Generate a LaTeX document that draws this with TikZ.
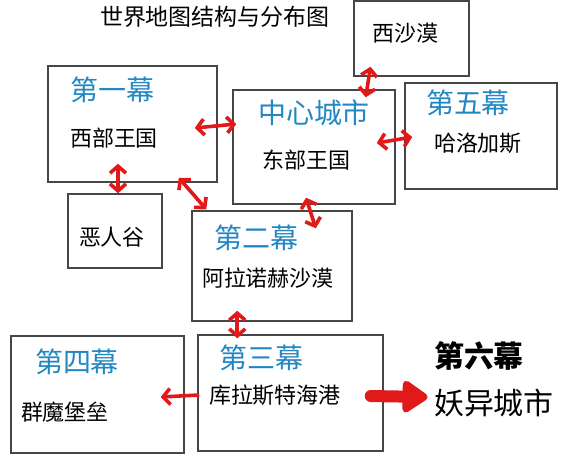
\documentclass[tikz,border=0pt]{standalone}
\usepackage{fontspec}
\setmainfont{Noto Sans CJK SC}
\usetikzlibrary{arrows.meta,calc,fit}
\definecolor{actblue}{RGB}{35,135,195}
\definecolor{mapred}{RGB}{225,25,25}
\definecolor{boxgray}{RGB}{70,70,70}
\tikzset{
  mapbox/.style={draw=boxgray, line width=0.75pt, inner sep=0pt},
  acttitle/.style={text=actblue, font=\fontsize{14}{14}\selectfont, inner sep=0pt},
  placename/.style={font=\fontsize{11}{11}\selectfont, inner sep=0pt},
  linkarrow/.style={draw=mapred, line width=1.8pt, >={Straight Barb[length=3.5pt,width=8pt]}, <->},
  onewayarrow/.style={linkarrow, ->},
  fatarrow/.style={draw=mapred, fill=mapred, line width=6pt, line cap=round, -{Triangle[length=14pt,width=18pt,round]}}
}
\begin{document}
\begin{tikzpicture}[x=0.5pt,y=-0.5pt]
\useasboundingbox (0,0) rectangle (580,457);
% title
\node[placename, font=\fontsize{11.5}{11.5}\selectfont] (maptitle) at (215,17) {世界地图结构与分布图};
% boxes
\node[mapbox, fit={(48,66) (217,182)}] (first) {};
\node[mapbox, fit={(233,90) (395,204)}] (center) {};
\node[mapbox, fit={(354,1) (469,76)}] (desert) {};
\node[mapbox, fit={(405,83) (557,189)}] (fifth) {};
\node[mapbox, fit={(68,194) (162,268)}] (valley) {};
\node[mapbox, fit={(192,211) (352,321)}] (second) {};
\node[mapbox, fit={(11,336) (184,453)}] (fourth) {};
\node[mapbox, fit={(198,335) (383,451)}] (third) {};
% texts
\node[acttitle] (firstact) at (112,90) {第一幕};
\node[placename] (firstplace) at (114,138) {西部王国};
\node[acttitle] (centeract) at (314,113) {中心城市};
\node[placename] (centerplace) at (307,160) {东部王国};
\node[placename] (desertplace) at (405,33) {西沙漠};
\node[acttitle] (fifthact) at (468,103) {第五幕};
\node[placename] (fifthplace) at (478,143) {哈洛加斯};
\node[placename] (valleyplace) at (112,237) {恶人谷};
\node[acttitle] (secondact) at (256,238) {第二幕};
\node[placename] (secondplace) at (268,278) {阿拉诺赫沙漠};
\node[acttitle] (fourthact) at (77,362) {第四幕};
\node[placename] (fourthplace) at (65,412) {群魔堡垒};
\node[acttitle] (thirdact) at (262,358) {第三幕};
\node[placename] (thirdplace) at (275,395) {库拉斯特海港};
\node[font=\bfseries\fontsize{15}{15}\selectfont, inner sep=0pt] (sixthact) at (479,356) {第六幕};
\node[font=\fontsize{15}{15}\selectfont, inner sep=0pt] (sixthplace) at (494,403) {妖异城市};
% arrows
\draw[linkarrow] ($(first.east)+(-23,4)$) -- ($(center.west)+(4,-23)$);
\draw[linkarrow] ($(first.south)+(-14.5,-19)$) -- ($(valley.north)+(3,0)$);
\draw[linkarrow] ($(first.south east)+(-39,-5)$) -- ($(second.north west)+(15,-1)$);
\draw[linkarrow] ($(desert.south)+(-41,-10)$) -- ($(center.north east)+(-30,8)$);
\draw[linkarrow] ($(center.east)+(-19,-4)$) -- ($(fifth.west)+(8,1)$);
\draw[linkarrow] ($(center.south)+(-8,-7)$) -- ($(second.north east)+(-37,18)$);
\draw[linkarrow] ($(second.south west)+(46,-11)$) -- ($(third.north west)+(40,4)$);
\draw[onewayarrow] ($(third.west)+(2,2)$) -- ($(fourth.east)+(-24,2.5)$);
\draw[fatarrow] ($(third.east)+(-13,3)$) -- ($(sixthplace.west)+(-6,-6)$);
\end{tikzpicture}
\end{document}
